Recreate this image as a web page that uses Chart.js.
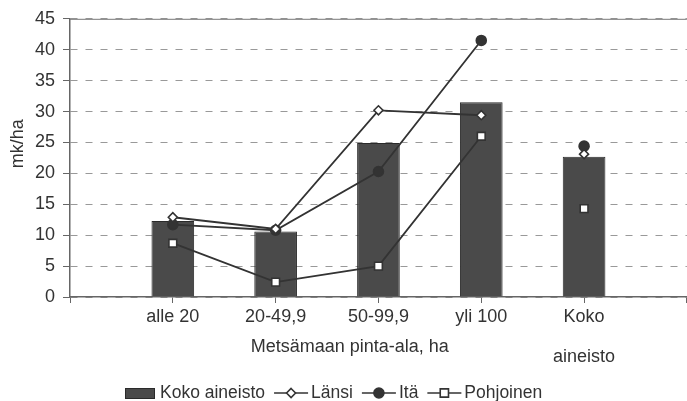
<!DOCTYPE html>
<html>
<head>
<meta charset="utf-8">
<script src="https://cdn.jsdelivr.net/npm/chart.js@4"></script>
<style>
html, body { margin: 0; padding: 0; background: #fff; overflow: hidden; }
</style>
</head>
<body>
<canvas id="chart" width="694" height="401"></canvas>
<script>
const categories = ["alle 20", "20-49,9", "50-99,9", "yli 100", ["Koko", "aineisto"]];
const kokoAineisto = [12.3, 10.6, 24.9, 31.5, 22.7];
const lansi = [12.9, 11.0, 30.2, 29.4, 23.1];
const ita = [11.7, 10.8, 20.3, 41.5, 24.4];
const pohjoinen = [8.7, 2.4, 5.0, 26.0, 14.3];
const yMin = 0, yMax = 45, yStep = 5;
const yTitle = "mk/ha";
const xTitle = "Metsämaan pinta-ala, ha";

const FONT = '"Liberation Sans", Arial, sans-serif';
const LINE = '#333';

// empty slot at both ends, so the categories sit one step in from the axis
function pad(arr) { return [null].concat(arr, [null]); }
const labels = [""].concat(categories, [""]);
const totalIdx = categories.length; // "Koko aineisto" is not joined to the lines

function noJoin(ctx) {
    return ctx.p1DataIndex === totalIdx ? 'rgba(0,0,0,0)' : LINE;
}

function lineSet(label, data, style, fill, radius) {
    return {
        type: 'line', label: label, data: pad(data), order: 0,
        borderColor: LINE, borderWidth: 1.8, tension: 0,
        pointStyle: style, pointRadius: radius, pointBackgroundColor: fill,
        pointBorderColor: LINE, pointBorderWidth: 1.6,
        segment: { borderColor: noJoin }
    };
}

function drawMarker(ctx, style, fill, r, x, y) {
    ctx.beginPath();
    if (style === 'circle') {
        ctx.arc(x, y, r, 0, Math.PI * 2);
    } else if (style === 'rectRot') {
        ctx.moveTo(x, y - r); ctx.lineTo(x + r, y); ctx.lineTo(x, y + r); ctx.lineTo(x - r, y); ctx.closePath();
    } else {
        const s = r * 0.75;
        ctx.rect(x - s, y - s, s * 2, s * 2);
    }
    ctx.fillStyle = fill;
    ctx.fill();
    ctx.stroke();
}

const overlay = {
    id: 'overlay',
    afterDraw(chart) {
        const ctx = chart.ctx, area = chart.chartArea;
        ctx.save();
        // solid frame line at the top of the plot
        ctx.strokeStyle = '#777'; ctx.lineWidth = 1;
        ctx.beginPath();
        ctx.moveTo(area.left, area.top + 0.5);
        ctx.lineTo(area.right, area.top + 0.5);
        ctx.stroke();

        ctx.fillStyle = '#333';
        ctx.textAlign = 'center'; ctx.textBaseline = 'middle';
        ctx.font = '18px ' + FONT;
        ctx.fillText(xTitle, area.left + (area.right - area.left) * 0.4535, area.bottom + 50);

        ctx.save();
        ctx.translate(18, area.top + 125);
        ctx.rotate(-Math.PI / 2);
        ctx.font = '18px ' + FONT;
        ctx.fillText(yTitle, 0, 0);
        ctx.restore();

        // legend: box or line with marker, then the name
        const ly = area.bottom + 96;
        let x = 125;
        ctx.font = '17.5px ' + FONT;
        ctx.textAlign = 'left';
        chart.data.datasets.forEach(function (ds) {
            if (ds.type === 'bar') {
                ctx.fillStyle = ds.backgroundColor;
                ctx.fillRect(x, ly - 5, 30, 11);
                ctx.strokeStyle = ds.borderColor; ctx.lineWidth = 1;
                ctx.strokeRect(x + 0.5, ly - 4.5, 29, 10);
                x += 35;
            } else {
                ctx.strokeStyle = LINE; ctx.lineWidth = 1.6;
                ctx.beginPath(); ctx.moveTo(x, ly); ctx.lineTo(x + 34, ly); ctx.stroke();
                drawMarker(ctx, ds.pointStyle, ds.pointBackgroundColor, ds.pointRadius, x + 17, ly);
                x += 37;
            }
            ctx.fillStyle = '#333';
            ctx.fillText(ds.label, x, ly);
            x += ctx.measureText(ds.label).width + 9;
        });
        ctx.restore();
    }
};

new Chart(document.getElementById('chart'), {
    type: 'bar',
    data: {
        labels: labels,
        datasets: [
            {
                type: 'bar', label: 'Koko aineisto', data: pad(kokoAineisto), order: 1,
                backgroundColor: '#4a4a4a', borderColor: '#2a2a2a', borderWidth: 1,
                barPercentage: 1, categoryPercentage: 0.415
            },
            lineSet('Länsi', lansi, 'rectRot', '#fff', 4.5),
            lineSet('Itä', ita, 'circle', LINE, 5),
            lineSet('Pohjoinen', pohjoinen, 'rect', '#fff', 5.5)
        ]
    },
    options: {
        responsive: false,
        animation: false,
        layout: { padding: { top: 17, right: 0, bottom: 0, left: 0 } },
        plugins: { legend: { display: false }, tooltip: { enabled: false } },
        scales: {
            x: {
                offset: false,
                grid: { offset: false, drawOnChartArea: false, drawTicks: true, tickLength: 6, tickColor: '#666' },
                border: { color: '#666', width: 1.5 },
                ticks: {
                    autoSkip: false, maxRotation: 0, padding: -6, color: '#333',
                    font: { family: FONT, size: 18, lineHeight: '40px' }
                },
                afterFit: function (scale) { scale.height = 104; }
            },
            y: {
                min: yMin, max: yMax,
                grid: { color: '#999', tickColor: '#666', tickLength: 7, tickBorderDash: [] },
                border: { color: '#666', width: 1.5, dash: [7, 8] },
                ticks: { stepSize: yStep, padding: 8, color: '#333', font: { family: FONT, size: 18 } },
                afterFit: function (scale) { scale.width = 70; }
            }
        }
    },
    plugins: [overlay]
});
</script>
</body>
</html>
